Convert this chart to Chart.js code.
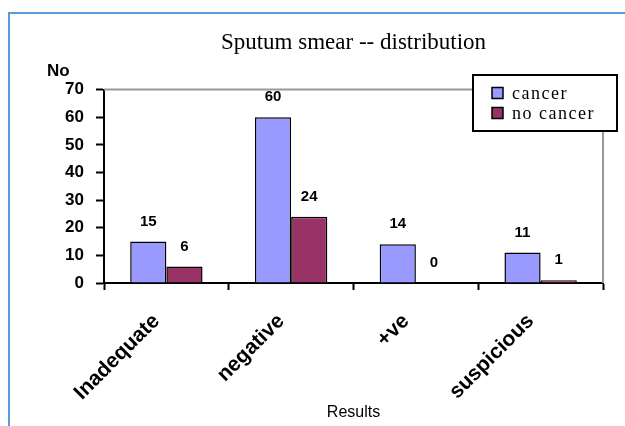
<!DOCTYPE html>
<html>
<head>
<meta charset="utf-8">
<script src="https://cdn.jsdelivr.net/npm/chart.js@4"></script>
<style>
  html, body { margin: 0; padding: 0; background: #fff; }
  #wrap { width: 625px; height: 426px; position: relative; }
</style>
</head>
<body>
<div id="wrap"><canvas id="smear" width="625" height="426"></canvas></div>
<script>
// Sputum smear distribution

var categories = ['Inadequate', 'negative', '+ve', 'suspicious'];
var cancer = [15, 60, 14, 11];
var noCancer = [6, 24, 0, 1];
var yTicks = [0, 10, 20, 30, 40, 50, 60, 70];

var sans = '"Liberation Sans", Arial, sans-serif';
var serif = '"Liberation Serif", "Times New Roman", serif';

// outer frame, "No" label, gray top/right plot border, legend box
var decor = {
    id: 'decor',
    beforeDraw: function (chart) {
        var c = chart.ctx;
        c.save();
        c.fillStyle = '#fff';
        c.fillRect(0, 0, chart.width, chart.height);
        c.strokeStyle = '#5b9bd5';
        c.lineWidth = 2;
        c.strokeRect(9, 13, 640, 440);
        c.restore();
    },
    afterDraw: function (chart) {
        var c = chart.ctx;
        var a = chart.chartArea;
        c.save();
        c.strokeStyle = '#999';
        c.lineWidth = 2;
        c.beginPath();
        c.moveTo(a.left, a.top);
        c.lineTo(a.right, a.top);
        c.lineTo(a.right, a.bottom);
        c.stroke();
        c.fillStyle = '#000';
        c.font = 'bold 17px ' + sans;
        c.textBaseline = 'middle';
        c.fillText('No', 47, 71);

        // legend
        c.fillStyle = '#fff';
        c.fillRect(473, 75, 144, 56);
        c.strokeStyle = '#000';
        c.lineWidth = 2;
        c.strokeRect(473, 75, 144, 56);
        chart.data.datasets.forEach(function (ds, i) {
            var y = 93 + i * 20;
            c.fillStyle = ds.backgroundColor;
            c.fillRect(492, y - 5.5, 11, 11);
            c.lineWidth = 1.5;
            c.strokeRect(492, y - 5.5, 11, 11);
            c.fillStyle = '#000';
            c.font = '18px ' + serif;
            c.letterSpacing = '1.5px';
            c.textBaseline = 'middle';
            c.fillText(ds.label, 512, y + 1);
            c.letterSpacing = '0px';
        });
        c.restore();
    }
};

// value labels above the bars
var valueLabels = {
    id: 'valueLabels',
    afterDatasetsDraw: function (chart) {
        var c = chart.ctx;
        c.save();
        c.fillStyle = '#000';
        c.font = 'bold 15px ' + sans;
        c.textAlign = 'center';
        c.textBaseline = 'middle';
        chart.data.datasets.forEach(function (ds, i) {
            chart.getDatasetMeta(i).data.forEach(function (bar, j) {
                c.fillText(String(ds.data[j]), bar.x, bar.y - 20);
            });
        });
        c.restore();
    }
};

var ctx = document.getElementById('smear').getContext('2d');
var chart = new Chart(ctx, {
    type: 'bar',
    data: {
        labels: categories,
        datasets: [{
            label: 'cancer',
            data: cancer,
            backgroundColor: '#9999ff',
            borderColor: '#000',
            borderWidth: 1.5
        }, {
            label: 'no cancer',
            data: noCancer,
            backgroundColor: '#993366',
            borderColor: '#000',
            borderWidth: 1.5
        }]
    },
    options: {
        responsive: false,
        animation: false,
        layout: { padding: { left: 0, top: 12, right: 22, bottom: 0 } },
        datasets: {
            bar: { categoryPercentage: 0.58, barPercentage: 1 }
        },
        plugins: {
            legend: { display: false },
            tooltip: { enabled: false },
            title: {
                display: true,
                fullSize: false,
                text: 'Sputum smear -- distribution',
                color: '#000',
                font: { family: serif, size: 23, weight: 'normal', lineHeight: 1.2 },
                padding: { top: 17, bottom: 33 }
            }
        },
        scales: {
            x: {
                afterFit: function (s) { s.height = 143; },
                border: { color: '#000', width: 2 },
                grid: {
                    offset: true,
                    drawOnChartArea: false,
                    drawTicks: true,
                    tickLength: 7,
                    tickColor: '#000',
                    tickWidth: 2
                },
                ticks: {
                    color: '#000',
                    font: { family: sans, size: 21, weight: 'bold' },
                    minRotation: 45,
                    maxRotation: 45,
                    padding: 19,
                    labelOffset: -10
                },
                title: {
                    display: true,
                    text: 'Results',
                    color: '#000',
                    font: { family: sans, size: 16, weight: 'normal' },
                    padding: { top: 4, bottom: 4 }
                }
            },
            y: {
                min: 0,
                max: 70,
                afterFit: function (s) { s.width = 104; },
                afterBuildTicks: function (s) {
                    s.ticks = yTicks.map(function (v) { return { value: v }; });
                },
                border: { color: '#000', width: 2 },
                grid: {
                    drawOnChartArea: false,
                    drawTicks: true,
                    tickLength: 8,
                    tickColor: '#000',
                    tickWidth: 2
                },
                ticks: {
                    color: '#000',
                    font: { family: sans, size: 17, weight: 'bold' },
                    padding: 12
                }
            }
        }
    },
    plugins: [decor, valueLabels]
});
</script>
</body>
</html>
